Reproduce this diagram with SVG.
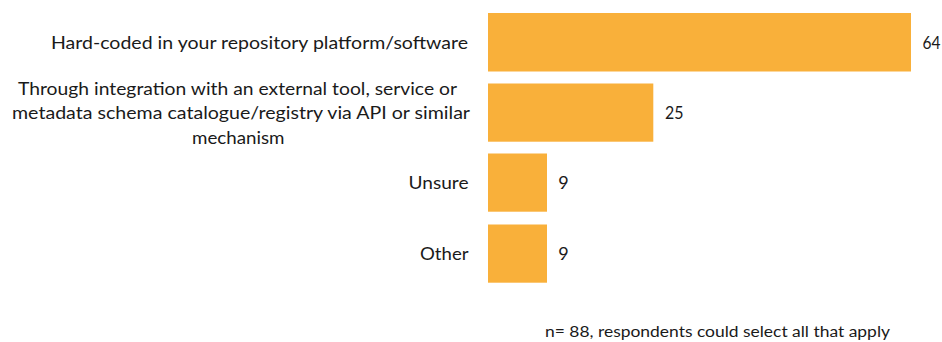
<svg xmlns="http://www.w3.org/2000/svg" width="942" height="342" viewBox="0 0 942 342">
<style>
.bar{fill:#F9B03A;}
.lbl{font-family:Lato,"Open Sans","Liberation Sans",sans-serif;font-size:18px;fill:#1a1a1a;}
.val{font-family:Lato,"Open Sans","Liberation Sans",sans-serif;font-size:18px;fill:#1a1a1a;}
.note{font-family:Lato,"Open Sans","Liberation Sans",sans-serif;font-size:15.5px;fill:#1a1a1a;}
</style>
<rect width="942" height="342" fill="#ffffff"/>
<g id="row-hardcoded">
<rect class="bar" x="488" y="13" width="423" height="58.5"/>
<text class="lbl" x="51" y="48.5" textLength="417" lengthAdjust="spacingAndGlyphs">Hard-coded in your repository platform/software</text>
<text class="val" x="922.5" y="48.5" textLength="18" lengthAdjust="spacingAndGlyphs">64</text>
</g>
<g id="row-integration">
<rect class="bar" x="488" y="83.5" width="165.3" height="58.2"/>
<text class="lbl" x="18" y="94.5" textLength="439" lengthAdjust="spacingAndGlyphs">Through integration with an external tool, service or</text>
<text class="lbl" x="12" y="119" textLength="458" lengthAdjust="spacingAndGlyphs">metadata schema catalogue/registry via API or similar</text>
<text class="lbl" x="192" y="143.5" textLength="92.5" lengthAdjust="spacingAndGlyphs">mechanism</text>
<text class="val" x="665" y="119" textLength="18.5" lengthAdjust="spacingAndGlyphs">25</text>
</g>
<g id="row-unsure">
<rect class="bar" x="488" y="153.5" width="59" height="58.2"/>
<text class="lbl" x="408.5" y="189" textLength="60" lengthAdjust="spacingAndGlyphs">Unsure</text>
<text class="val" x="558.3" y="189">9</text>
</g>
<g id="row-other">
<rect class="bar" x="488" y="224.5" width="59" height="58.2"/>
<text class="lbl" x="420" y="260" textLength="48.5" lengthAdjust="spacingAndGlyphs">Other</text>
<text class="val" x="558.3" y="260">9</text>
</g>
<g id="connectors"></g>
<text class="note" x="545" y="337" textLength="345" lengthAdjust="spacingAndGlyphs">n= 88, respondents could select all that apply</text>
</svg>
